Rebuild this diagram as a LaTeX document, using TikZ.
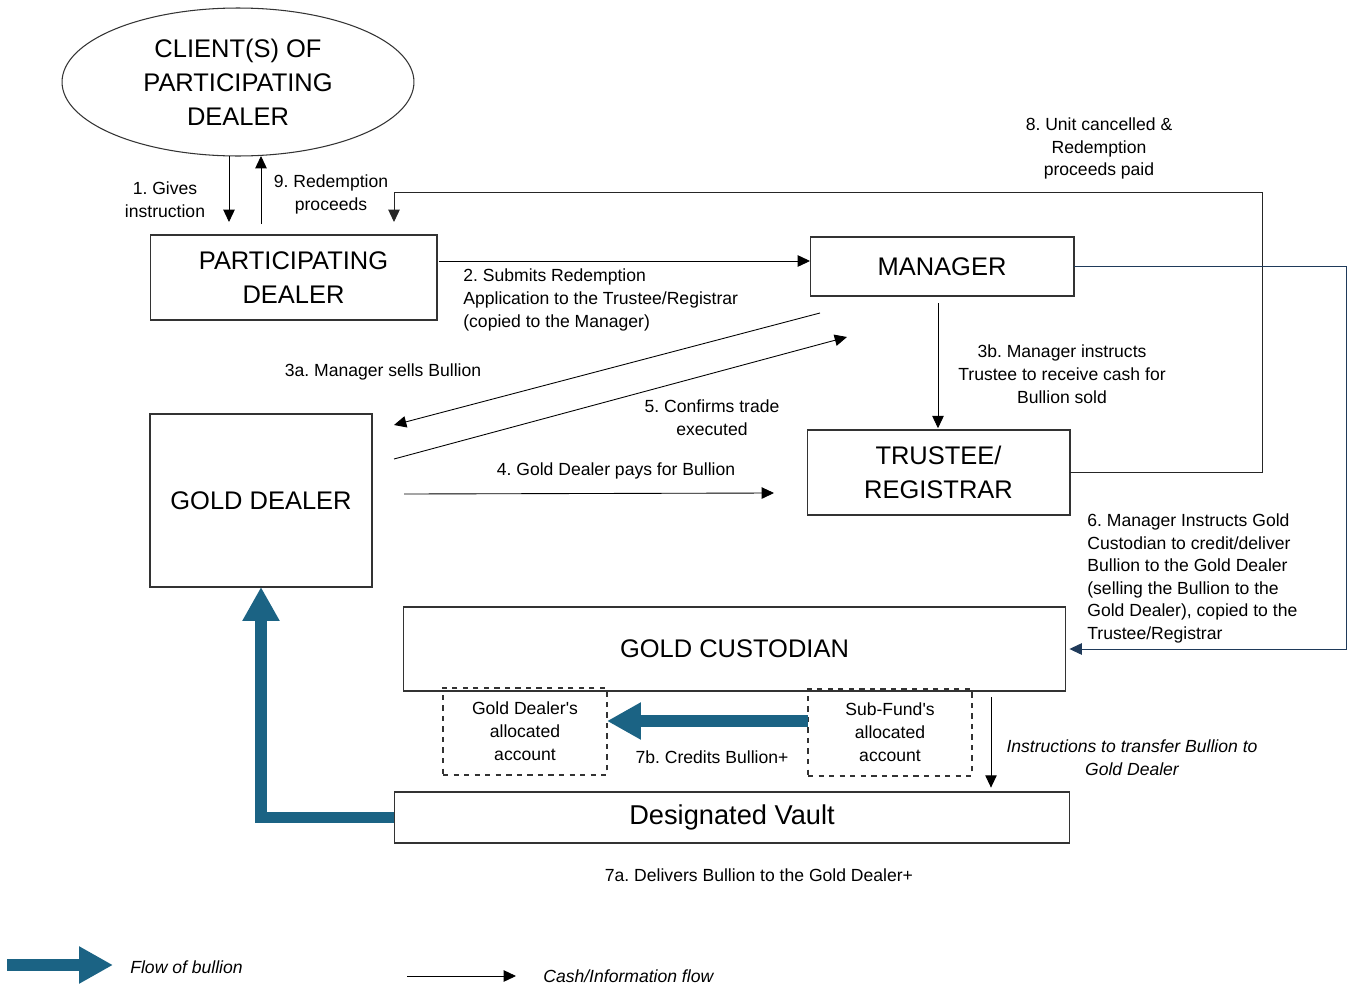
\documentclass[tikz,border=0pt]{standalone}
\usepackage{fontspec}
\setmainfont{Liberation Sans}
\usetikzlibrary{arrows.meta,shapes.geometric}

\definecolor{bullblue}{HTML}{1B6384}
\definecolor{navyline}{HTML}{1F3A5A}

\tikzset{
  box/.style={draw=black!80, line width=0.6pt, inner sep=0pt, outer sep=0pt,
    font=\fontsize{14.5}{19.3}\selectfont, align=center},
  acct/.style={box, dashed, font=\fontsize{10}{13}\selectfont,
    minimum width=3.28cm, minimum height=1.74cm},
  lbl/.style={inner sep=0pt, font=\fontsize{10}{13}\selectfont, align=center},
  flow/.style={line width=0.5pt, -{Triangle[length=7pt,width=6.5pt]}},
  bullion/.style={draw=bullblue, line width=6.8pt,
    -{Triangle[length=0.68cm,width=0.7cm]}},
}

\begin{document}
\begin{tikzpicture}[x=0.02cm,y=-0.02cm]
  \useasboundingbox (0,0) rectangle (1353,984);

  % parties
  \node[box, ellipse, minimum width=7.04cm, minimum height=2.96cm] (client) at (238,82)
    {CLIENT(S) OF\\PARTICIPATING\\DEALER};
  \node[box, minimum width=5.74cm, minimum height=1.7cm] (pdealer) at (293.5,277.5)
    {PARTICIPATING\\DEALER};
  \node[box, minimum width=5.28cm, minimum height=1.18cm] (manager) at (942,266.5) {MANAGER};
  \node[box, minimum width=5.26cm, minimum height=1.7cm] (trustee) at (938.5,472.5)
    {TRUSTEE/\\REGISTRAR};
  \node[box, minimum width=4.44cm, minimum height=3.46cm] (gdealer) at (261,500.5) {GOLD DEALER};
  \node[box, minimum width=13.26cm, minimum height=1.68cm] (custodian) at (734.5,649)
    {GOLD CUSTODIAN};
  \node[acct] (gdacct) at (525,731.5) {Gold Dealer\textquotesingle s\\allocated\\account};
  \node[acct] (sfacct) at (890,732.5) {Sub-Fund\textquotesingle s\\allocated\\account};
  \node[box, font=\fontsize{15.5}{18}\selectfont, minimum width=13.52cm, minimum height=1.02cm]
    (vault) at (732,817.5) {\raisebox{-1pt}{Designated Vault}};

  % free ends of the connectors
  \path (229,222) coordinate (e1)
        (261,224) coordinate (s9)
        (1262,192) coordinate (k8)
        (394,222) coordinate (e8)
        (1346,266) coordinate (k6)
        (439,261) coordinate (s2)
        (820,313) coordinate (s3a)
        (394,425) coordinate (e3a)
        (394,459) coordinate (s5)
        (847,337) coordinate (e5)
        (404,494) coordinate (s4)
        (774,493) coordinate (e4)
        (938,303) coordinate (s3b)
        (991,697) coordinate (sin)
        (808,721) coordinate (s7b);

  % cash / information flow
  \draw[flow] (client.south -| e1) -- (e1);
  \draw[flow] (s9) -- (s9 |- client.south);
  \draw[flow, draw=black!85] (trustee.east) -| (k8) -| (e8);
  \draw[flow, draw=navyline] (manager.east) -| (k6) |- ([xshift=2pt]custodian.east);
  \draw[flow] (s2) -- (s2 -| manager.west);
  \draw[flow] (s3a) -- (e3a);
  \draw[flow] (s5) -- (e5);
  \draw[flow] (s4) -- (e4);
  \draw[flow] (s3b) -- ([yshift=1pt]s3b |- trustee.north);
  \draw[flow] (sin) -- ([yshift=2.5pt]sin |- vault.north);

  % flow of bullion
  \draw[bullion] (s7b) -- (s7b -| gdacct.east);
  \draw[bullion] (vault.west) -| (gdealer.south);

  \path (165,199.5) node[lbl] {1.\ Gives\\instruction}
        (331,194.5) node[lbl] {9.\ Redemption\\proceeds}
        (1099,148.5) node[lbl] {8.\ Unit cancelled \&\\Redemption\\proceeds paid}
        (463,300) node[lbl, anchor=west, align=left]
          {2.\ Submits Redemption\\Application to the Trustee/Registrar\\(copied to the Manager)}
        (383,372) node[lbl] {3a.\ Manager sells Bullion}
        (712,418) node[lbl] {5.\ Confirms trade\\executed}
        (616,471) node[lbl] {4.\ Gold Dealer pays for Bullion}
        (1062,374) node[lbl] {3b.\ Manager instructs\\Trustee to receive cash for\\Bullion sold}
        (1087,578.5) node[lbl, anchor=west, align=left, font=\fontsize{10}{12.8}\selectfont]
          {6.\ Manager Instructs Gold\\Custodian to credit/deliver\\Bullion to the Gold Dealer\\(selling the Bullion to the\\Gold Dealer), copied to the\\Trustee/Registrar}
        (1132,758) node[lbl, font=\fontsize{10}{13}\itshape]
          {Instructions to transfer Bullion to\\Gold Dealer}
        (712,757) node[lbl] {7b.\ Credits Bullion+}
        (759,875) node[lbl] {7a.\ Delivers Bullion to the Gold Dealer+};

  % legend
  \path (7,965) coordinate (lb1) (113,965) coordinate (lb2)
        (407,976) coordinate (lc1) (516,976) coordinate (lc2);
  \draw[bullion] (lb1) -- (lb2);
  \draw[flow] (lc1) -- (lc2);
  \node[lbl, anchor=west, font=\fontsize{10}{13}\itshape] (legb) at (130,967) {Flow of bullion};
  \node[lbl, anchor=west, font=\fontsize{10}{13}\itshape] (legc) at (543,976) {Cash/Information flow};
\end{tikzpicture}
\end{document}
